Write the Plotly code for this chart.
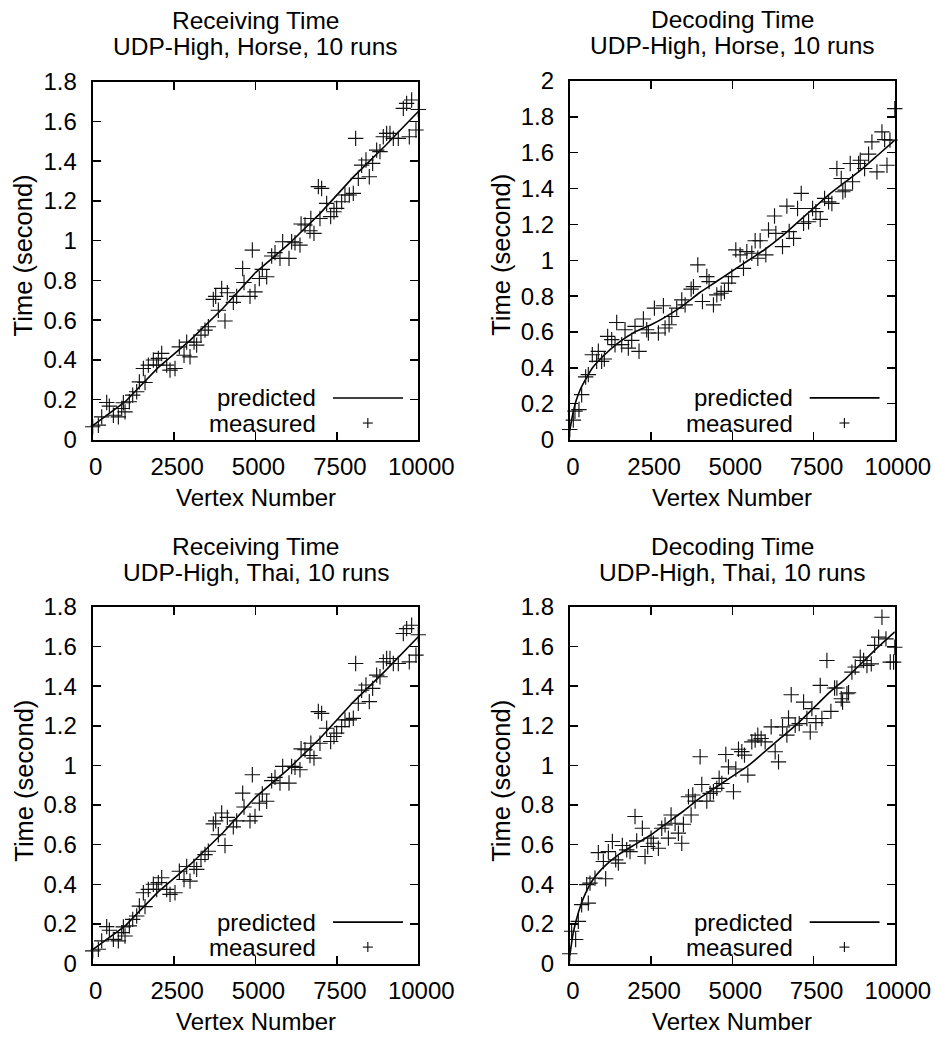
import plotly.graph_objects as go

# ---------------- data ----------------
# Receiving time (Horse); the Thai receiving panel shows the same measurements
recv_x = [0, 174, 276, 430, 512, 635, 788, 890, 942, 993, 1126, 1228, 1351, 1433, 1556, 1607,
          1709, 1863, 1965, 2016, 2119, 2272, 2375, 2528, 2661, 2805, 2886, 2989, 3112, 3193,
          3326, 3449, 3552, 3705, 3777, 3859, 3961, 4063, 4135, 4319, 4421, 4606, 4647, 4831,
          4903, 4985, 5118, 5210, 5343, 5496, 5599, 5752, 5834, 6029, 6110, 6213, 6366, 6400,
          6520, 6673, 6700, 6796, 6930, 6980, 7031, 7185, 7308, 7410, 7492, 7646, 7748, 7881,
          8004, 8076, 8158, 8260, 8393, 8495, 8598, 8721, 8823, 8925, 9028, 9130, 9233, 9386,
          9540, 9642, 9724, 9795, 9928, 10000]
recv_y = [0.064, 0.072, 0.114, 0.186, 0.168, 0.122, 0.114, 0.156, 0.185, 0.139, 0.19, 0.223,
          0.24, 0.29, 0.357, 0.287, 0.374, 0.40, 0.374, 0.408, 0.433, 0.374, 0.349, 0.357,
          0.466, 0.424, 0.49, 0.416, 0.49, 0.475, 0.525, 0.55, 0.567, 0.705, 0.72, 0.65, 0.76,
          0.596, 0.738, 0.69, 0.72, 0.86, 0.79, 0.72, 0.953, 0.743, 0.81, 0.856, 0.819, 0.923,
          0.94, 0.911, 0.995, 0.911, 0.995, 0.99, 0.978, 1.084, 1.079, 1.05, 1.112, 1.037,
          1.272, 1.112, 1.263, 1.188, 1.121, 1.146, 1.163, 1.196, 1.23, 1.23, 1.238, 1.515,
          1.314, 1.38, 1.406, 1.322, 1.389, 1.456, 1.448, 1.523, 1.54, 1.54, 1.515, 1.515,
          1.666, 1.691, 1.523, 1.708, 1.557, 1.66]
recv_pred_x = [0, 1000, 2000, 3000, 4000, 5000, 6000, 7000, 8000, 9000, 10000]
recv_pred_y = [0.07, 0.19, 0.36, 0.50, 0.66, 0.84, 0.98, 1.14, 1.32, 1.48, 1.65]

# Decoding time, Horse
dech_x = [0, 108, 159, 282, 365, 488, 570, 693, 826, 878, 980, 1063, 1165, 1289, 1391, 1443,
          1597, 1699, 1802, 1905, 2007, 2130, 2264, 2366, 2418, 2603, 2726, 2880, 2931, 3055,
          3137, 3290, 3445, 3548, 3733, 3805, 3938, 4082, 4215, 4286, 4420, 4523, 4656, 4759,
          4882, 4985, 5108, 5241, 5344, 5447, 5600, 5703, 5785, 5857, 6032, 6114, 6299, 6340,
          6545, 6679, 6751, 6885, 7008, 7121, 7193, 7347, 7470, 7572, 7706, 7839, 7962, 8064,
          8218, 8352, 8400, 8475, 8629, 8701, 8886, 8937, 9071, 9194, 9296, 9451, 9605, 9687,
          9759, 9851, 10000]
dech_y = [0.056, 0.108, 0.158, 0.167, 0.25, 0.349, 0.362, 0.473, 0.436, 0.492, 0.436, 0.449,
          0.575, 0.557, 0.529, 0.653, 0.529, 0.612, 0.51, 0.553, 0.631, 0.492, 0.672, 0.612,
          0.594, 0.733, 0.594, 0.746, 0.622, 0.64, 0.686, 0.733, 0.779, 0.751, 0.839, 0.853,
          0.974, 0.77, 0.909, 0.881, 0.751, 0.807, 0.816, 0.826, 0.872, 0.909, 1.058, 1.03,
          0.955, 1.048, 1.039, 1.109, 1.011, 1.109, 1.03, 1.169, 1.247, 1.15, 1.076, 1.302,
          1.16, 1.122, 1.289, 1.373, 1.206, 1.215, 1.289, 1.271, 1.228, 1.345, 1.326, 1.317,
          1.512, 1.456, 1.382, 1.391, 1.54, 1.438, 1.54, 1.558, 1.512, 1.592, 1.66, 1.493,
          1.716, 1.673, 1.53, 1.67, 1.846]
dech_pred_x = [0, 100, 200, 350, 500, 700, 1000, 1500, 2000, 2500, 3000, 3500, 4000, 4500,
               5000, 5500, 6000, 6500, 7000, 7500, 8000, 8500, 9000, 9500, 10000]
dech_pred_y = [0.05, 0.15, 0.22, 0.29, 0.34, 0.40, 0.46, 0.54, 0.60, 0.64, 0.69, 0.75, 0.82,
               0.88, 0.94, 1.00, 1.06, 1.13, 1.21, 1.29, 1.37, 1.44, 1.51, 1.59, 1.67]

# Decoding time, Thai
dect_x = [0, 56, 180, 262, 365, 519, 570, 621, 775, 878, 1032, 1104, 1186, 1310, 1412, 1494,
          1617, 1751, 1853, 2007, 2058, 2233, 2315, 2397, 2500, 2572, 2726, 2829, 2931, 3034,
          3116, 3240, 3342, 3445, 3496, 3651, 3733, 3784, 3856, 4010, 4061, 4215, 4318, 4420,
          4523, 4595, 4677, 4800, 4882, 5036, 5108, 5190, 5293, 5375, 5478, 5600, 5703, 5785,
          5888, 6011, 6196, 6319, 6422, 6545, 6679, 6730, 6813, 6936, 7059, 7193, 7295, 7398,
          7449, 7572, 7706, 7757, 7911, 8034, 8147, 8218, 8352, 8393, 8526, 8577, 8680, 8783,
          8937, 9040, 9143, 9276, 9379, 9502, 9605, 9728, 9860, 9963, 10000]
dect_y = [0.049, 0.163, 0.121, 0.213, 0.297, 0.398, 0.305, 0.406, 0.431, 0.56, 0.515, 0.428,
          0.565, 0.616, 0.523, 0.507, 0.596, 0.574, 0.565, 0.742, 0.619, 0.683, 0.54, 0.591,
          0.633, 0.607, 0.582, 0.683, 0.70, 0.633, 0.75, 0.708, 0.658, 0.607, 0.703, 0.842,
          0.75, 0.851, 0.82, 1.044, 0.904, 0.82, 0.859, 0.867, 0.884, 0.935, 0.909, 1.055,
          0.993, 0.867, 0.982, 1.082, 1.07, 1.052, 0.951, 1.119, 1.128, 1.153, 1.136, 1.119,
          1.195, 1.069, 1.018, 1.195, 1.153, 1.24, 1.357, 1.203, 1.211, 1.32, 1.237, 1.169,
          1.287, 1.216, 1.404, 1.237, 1.53, 1.273, 1.391, 1.391, 1.337, 1.32, 1.362, 1.367,
          1.471, 1.497, 1.547, 1.53, 1.505, 1.513, 1.606, 1.648, 1.748, 1.639, 1.522, 1.522,
          1.597]
dect_pred_x = [0, 100, 200, 350, 500, 700, 1000, 1500, 2000, 2500, 3000, 3500, 4000, 4500,
               5000, 5500, 6000, 6500, 7000, 7500, 8000, 8500, 9000, 9500, 10000]
dect_pred_y = [0.04, 0.15, 0.22, 0.30, 0.36, 0.42, 0.48, 0.55, 0.60, 0.65, 0.71, 0.77, 0.835,
               0.89, 0.945, 1.00, 1.07, 1.14, 1.21, 1.29, 1.37, 1.44, 1.52, 1.60, 1.675]

titles_line1 = ["Receiving Time", "Decoding Time", "Receiving Time", "Decoding Time"]
titles_line2 = ["UDP-High, Horse, 10 runs", "UDP-High, Horse, 10 runs",
                "UDP-High, Thai, 10 runs", "UDP-High, Thai, 10 runs"]
x_ticks = [0, 2500, 5000, 7500, 10000]
x_ticktext = ["0", "2500", "5000", "7500", "10000"]
y_max = [1.8, 2.0, 1.8, 1.8]
y_step = 0.2
x_title = "Vertex Number"
y_title = "Time (second)"
legend_labels = ["predicted", "measured"]

# ---------------- figure ----------------
W, H = 935, 1038
FONT = "Liberation Sans, Arial, Helvetica, sans-serif"
FS = 24

panels = [
    (recv_x, recv_y, recv_pred_x, recv_pred_y, "linear"),
    (dech_x, dech_y, dech_pred_x, dech_pred_y, "spline"),
    (recv_x, recv_y, recv_pred_x, recv_pred_y, "linear"),
    (dect_x, dect_y, dect_pred_x, dect_pred_y, "spline"),
]

# page-pixel boxes (left, right, top, bottom)
boxes = [
    (92.7, 418.3, 81.7, 439.5),
    (569.8, 894.8, 81.0, 439.5),
    (92.7, 418.3, 607.0, 963.5),
    (569.8, 894.8, 607.0, 963.5),
]


def px_x(v):
    return v / W


def px_y(v):
    return 1 - v / H


fig = go.Figure()
layout = dict(
    template="none",
    width=W, height=H, autosize=False,
    margin=dict(l=0, r=0, t=0, b=0, pad=0),
    paper_bgcolor="white", plot_bgcolor="white",
    showlegend=False,
    font=dict(family=FONT, size=FS, color="black"),
)
annotations = []
shapes = []

for i, ((mx, my, px, py, shp), (L, R, T, B)) in enumerate(zip(panels, boxes)):
    n = "" if i == 0 else str(i + 1)
    xa, ya = "x" + n, "y" + n
    fig.add_trace(go.Scatter(
        x=px, y=py, mode="lines", xaxis=xa, yaxis=ya,
        line=dict(color="black", width=1.6, shape=shp, smoothing=0.6),
    ))
    fig.add_trace(go.Scatter(
        x=mx, y=my, mode="markers", xaxis=xa, yaxis=ya,
        marker=dict(symbol="cross-thin", size=11, line=dict(color="#111", width=1.15)),
        cliponaxis=False,
    ))
    nt = int(round(y_max[i] / y_step))
    yvals = [round(k * y_step, 1) for k in range(nt + 1)]
    ytext = [("%g" % v) for v in yvals]
    common = dict(showline=True, linecolor="black", linewidth=2, mirror="ticks",
                  ticks="inside", ticklen=8, tickwidth=1.5, tickcolor="black",
                  showgrid=False, zeroline=False, automargin=False,
                  ticklabeloverflow="allow",
                  tickfont=dict(family=FONT, size=FS, color="black"))
    layout["xaxis" + n] = dict(
        domain=[px_x(L), px_x(R)], anchor=ya, range=[0, 10000],
        tickvals=x_ticks, ticktext=x_ticktext, ticklabelstandoff=5,
        ticklabelshift=3, **common)
    layout["yaxis" + n] = dict(
        domain=[px_y(B), px_y(T)], anchor=xa, range=[0, y_max[i]],
        tickvals=yvals, ticktext=ytext, ticklabelstandoff=9, **common)

    cx = (L + R) / 2
    annotations.append(dict(text=titles_line1[i], x=px_x(cx), y=px_y(T - 61),
                            xref="paper", yref="paper", showarrow=False,
                            font=dict(size=24.5), xanchor="center", yanchor="middle"))
    annotations.append(dict(text=titles_line2[i], x=px_x(cx), y=px_y(T - 35),
                            xref="paper", yref="paper", showarrow=False,
                            font=dict(size=24.5), xanchor="center", yanchor="middle"))
    annotations.append(dict(text=x_title, x=px_x(cx), y=px_y(B + 58),
                            xref="paper", yref="paper", showarrow=False,
                            xanchor="center", yanchor="middle"))
    annotations.append(dict(text=y_title, x=px_x(L - 69.5), y=px_y(T + 173.5),
                            xref="paper", yref="paper", showarrow=False, textangle=-90,
                            font=dict(size=25.5), xanchor="center", yanchor="middle"))
    # legend (gnuplot style: text then sample)
    xd, yd = xa + " domain", ya + " domain"
    pw, ph = R - L, B - T
    for k, lab in enumerate(legend_labels):
        yy = 0.116 - k * 0.07
        annotations.append(dict(text=lab, x=0.692, y=yy, xref=xd, yref=yd,
                                showarrow=False, xanchor="right", yanchor="middle"))
    shapes.append(dict(type="line", xref=xd, yref=yd, x0=0.738, x1=0.953,
                       y0=0.116, y1=0.116, line=dict(color="black", width=1.6)))
    hx, hy = 5 / pw, 5 / ph
    shapes.append(dict(type="line", xref=xd, yref=yd, x0=0.845 - hx, x1=0.845 + hx,
                       y0=0.046, y1=0.046, line=dict(color="#111", width=1.15)))
    shapes.append(dict(type="line", xref=xd, yref=yd, x0=0.845, x1=0.845,
                       y0=0.046 - hy, y1=0.046 + hy, line=dict(color="#111", width=1.15)))

layout["annotations"] = annotations
layout["shapes"] = shapes
fig.update_layout(**layout)
# remove the page's default 8px body margin so the figure fills the window exactly
fig.write_html("out.html", config={"displayModeBar": False, "staticPlot": True},
               post_script="document.body.style.margin='0';")
